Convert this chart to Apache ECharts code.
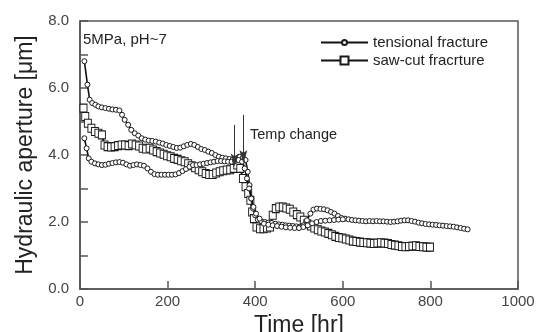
<!DOCTYPE html>
<html>
<head>
<meta charset="utf-8">
<script src="https://cdn.jsdelivr.net/npm/echarts@6/dist/echarts.min.js"></script>
<style>html,body{margin:0;padding:0;background:#fff}#c{width:541px;height:332px}</style>
</head>
<body>
<div id="c"></div>
<script>
// ---- data ----
const xTicks = [0, 200, 400, 600, 800, 1000];
const yTicks = [0, 2, 4, 6, 8];
const seriesNames = ['tensional fracture', 'saw-cut fracrture'];

const tensA_t = [10,17,22,28,35,42,50,58,66,74,82,90,96,102,110,117,125,133,141,149,157,165,173,181,189,197,205,213,221,229,237,245,253,261,269,277,285,293,301,309,317,325,333,341,349,357,365,372,378,383,387,391,395,400,406,414,422,430,438,446,454,462,470,478,486,494,502,510,518,526,533,541,549,557,565,573,581,589,597,605,613,621,629,637,645,653,661,669,677,685,693,701,709,717,725,733,741,749,757,765,773,781,789,797,805,813,821,829,837,845,853,861,869,877,885];
const tensA_v = [6.8,6.1,5.65,5.55,5.5,5.45,5.42,5.4,5.38,5.36,5.35,5.33,5.2,5.05,4.9,4.75,4.65,4.58,4.5,4.46,4.43,4.42,4.4,4.37,4.34,4.3,4.27,4.24,4.21,4.22,4.26,4.3,4.33,4.3,4.24,4.18,4.15,4.1,4.06,4.0,3.95,3.92,3.9,3.88,3.87,3.88,3.95,3.93,3.85,3.5,3.1,2.7,2.4,2.2,2.07,2.02,2.0,1.98,1.97,1.95,1.93,1.92,1.9,1.89,1.88,1.87,1.86,1.9,2.05,2.25,2.37,2.4,2.39,2.38,2.35,2.3,2.25,2.18,2.12,2.1,2.08,2.06,2.05,2.04,2.03,2.02,2.03,2.02,2.03,2.02,2.02,2.01,2.0,2.01,2.02,2.04,2.05,2.05,2.03,2.01,1.98,1.96,1.94,1.93,1.92,1.91,1.9,1.89,1.88,1.87,1.86,1.84,1.82,1.8,1.78];

const tensB_t = [10,15,20,26,34,42,50,58,66,74,82,90,98,106,114,122,130,138,146,154,162,170,178,186,194,202,210,218,226,234,242,250,258,266,274,282,290,298,306,314,322,330,338,346,354,362,370,376,381,386,391,396,402,410,420,430,440,450,460,470,480,490,500,510,520,530,540,550,560,570,580,590,600];
const tensB_v = [4.5,4.2,3.9,3.8,3.75,3.72,3.7,3.71,3.74,3.76,3.78,3.79,3.77,3.72,3.68,3.7,3.72,3.7,3.68,3.6,3.5,3.43,3.41,3.41,3.41,3.41,3.41,3.42,3.46,3.52,3.58,3.65,3.7,3.7,3.72,3.74,3.76,3.78,3.8,3.82,3.82,3.81,3.8,3.8,3.82,3.85,3.8,3.6,3.3,3.0,2.7,2.45,2.25,2.1,1.95,1.92,1.9,1.88,1.86,1.84,1.83,1.82,1.82,1.85,1.9,1.96,2.0,2.03,2.04,2.05,2.06,2.07,2.08];

const saw_t = [8,12,18,26,34,42,50,56,63,71,79,87,95,103,111,119,127,135,143,151,159,167,175,183,191,199,207,215,223,231,239,247,255,263,271,279,287,295,303,311,319,327,335,343,351,359,366,372,378,384,389,393,397,403,411,419,427,434,440,447,455,463,471,479,487,495,503,511,519,527,535,543,551,559,567,575,583,591,599,607,615,623,631,639,647,655,663,671,679,687,695,703,711,719,727,735,743,751,759,767,775,783,791,799];
const saw_v = [5.4,5.15,4.95,4.8,4.7,4.65,4.6,4.3,4.25,4.24,4.25,4.28,4.3,4.3,4.28,4.33,4.3,4.27,4.2,4.18,4.2,4.15,4.1,4.06,4.02,3.98,3.95,3.9,3.87,3.83,3.8,3.74,3.68,3.62,3.56,3.5,3.45,3.42,3.42,3.46,3.5,3.53,3.55,3.56,3.6,3.7,3.6,3.3,3.05,2.85,2.65,2.3,2.1,1.85,1.8,1.8,1.82,1.85,2.2,2.4,2.45,2.45,2.42,2.38,2.3,2.22,2.15,2.05,1.95,1.88,1.82,1.77,1.73,1.7,1.66,1.62,1.57,1.54,1.52,1.49,1.46,1.43,1.42,1.4,1.39,1.38,1.37,1.36,1.37,1.38,1.37,1.36,1.33,1.31,1.29,1.27,1.26,1.27,1.28,1.29,1.27,1.26,1.25,1.25];

// arrows for "Temp change" (time, aperture)
const arrow1 = [[353, 4.9], [353, 3.85]];
const arrow2 = [[373, 5.2], [373, 3.95]];

const FONT = '"Liberation Sans", Arial, Helvetica, sans-serif';
const zip = (t, v) => t.map((x, i) => [x, v[i]]);
// small circle inside a padded box so the legend glyph stays small
const CIRCLE = 'path://M0,0M16,16M8,3A5,5,0,1,1,8,13A5,5,0,1,1,8,3Z';
// narrow arrow head (pointing up, padded to a square box)
const ARROW = 'path://M0,0M10,0M0,10M5,0L8,10L5,8L2,10Z';

const circleStyle = {
  type: 'line', symbol: CIRCLE, symbolSize: 8,
  itemStyle: { color: '#fff', borderColor: '#1a1a1a', borderWidth: 1 },
  lineStyle: { color: '#111', width: 1.6 },
  z: 4
};

const chart = echarts.init(document.getElementById('c'), null, { renderer: 'canvas' });
chart.setOption({
  animation: false,
  backgroundColor: '#fff',
  grid: { left: 80, right: 23, top: 21, bottom: 43, show: true, borderColor: '#555', borderWidth: 1.5, backgroundColor: 'transparent', outerBoundsMode: 'none', containLabel: false },
  legend: {
    orient: 'vertical', left: 320, top: 35, padding: 0,
    itemWidth: 47, itemHeight: 10, itemGap: 3,
    data: seriesNames,
    textStyle: { fontFamily: FONT, fontSize: 15, color: '#222', lineHeight: 15 }
  },
  xAxis: {
    type: 'value', min: xTicks[0], max: xTicks[xTicks.length - 1], interval: 200,
    name: 'Time [hr]', nameLocation: 'middle', nameGap: 25,
    nameTextStyle: { fontFamily: FONT, fontSize: 23, color: '#222' },
    axisLine: { lineStyle: { color: '#555', width: 1.5 } },
    axisTick: { inside: true, length: 8, lineStyle: { color: '#555', width: 1.5 } },
    axisLabel: { fontFamily: FONT, fontSize: 15, color: '#444', margin: 5, formatter: v => String(v) },
    splitLine: { show: false }
  },
  yAxis: {
    type: 'value', min: yTicks[0], max: yTicks[yTicks.length - 1], interval: 2,
    name: 'Hydraulic aperture [\u03bcm]', nameLocation: 'middle', nameGap: 43,
    nameTextStyle: { fontFamily: FONT, fontSize: 23, color: '#222' },
    axisLine: { lineStyle: { color: '#555', width: 1.5 } },
    axisTick: { inside: true, length: 8, lineStyle: { color: '#555', width: 1.5 } },
    minorTick: { show: true, splitNumber: 2, length: 8, lineStyle: { color: '#555', width: 1.5 } },
    axisLabel: { fontFamily: FONT, fontSize: 15, color: '#444', margin: 11, formatter: v => v.toFixed(1) },
    splitLine: { show: false }
  },
  series: [
    Object.assign({}, circleStyle, { name: seriesNames[0], data: zip(tensA_t, tensA_v) }),
    Object.assign({}, circleStyle, { name: seriesNames[0], data: zip(tensB_t, tensB_v) }),
    {
      type: 'line', name: seriesNames[1], data: zip(saw_t, saw_v),
      symbol: 'rect', symbolSize: [7, 8],
      itemStyle: { color: '#fff', borderColor: '#1a1a1a', borderWidth: 1 },
      lineStyle: { color: '#111', width: 1.8 },
      z: 3
    },
    {
      type: 'line', name: 'arrows', data: [], z: 10, silent: true,
      markLine: {
        silent: true, symbol: ['none', ARROW], symbolSize: 13,
        lineStyle: { color: '#333', width: 1, type: 'solid' },
        itemStyle: { color: '#111' },
        label: { show: false }, emphasis: { disabled: true },
        data: [
          [{ coord: arrow1[0] }, { coord: arrow1[1] }],
          [{ coord: arrow2[0] }, { coord: arrow2[1] }]
        ]
      }
    }
  ],
  graphic: [
    { type: 'text', left: 83, top: 32, style: { text: '5MPa, pH~7', font: '15px ' + FONT, fill: '#222' } },
    { type: 'text', left: 250, top: 127, style: { text: 'Temp change', font: '14.5px ' + FONT, fill: '#222' } }
  ]
});
</script>
</body>
</html>
